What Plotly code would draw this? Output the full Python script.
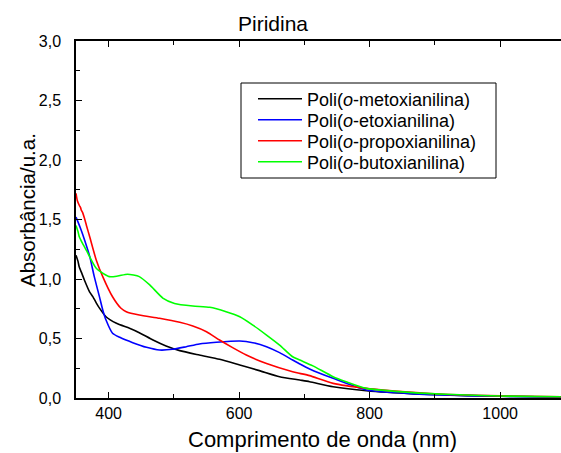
import plotly.graph_objects as go

# Wavelength (nm) / absorbance data
x_met = [350, 353, 355, 358, 363, 371, 376, 381, 386, 396, 412, 432, 447, 468, 488, 509, 539, 570, 601, 631, 662, 693, 708, 744, 795, 870, 950, 1020, 1093]
y_met = [1.20, 1.15, 1.10, 1.06, 0.99, 0.89, 0.85, 0.80, 0.755, 0.683, 0.628, 0.586, 0.549, 0.487, 0.437, 0.398, 0.361, 0.325, 0.277, 0.230, 0.179, 0.151, 0.137, 0.095, 0.061, 0.035, 0.020, 0.013, 0.008]

x_et = [350, 353, 358, 363, 371, 378, 386, 391, 396, 406, 417, 437, 458, 478, 498, 519, 539, 565, 601, 621, 642, 662, 682, 693, 708, 744, 795, 870, 950, 1020, 1093]
y_et = [1.52, 1.48, 1.41, 1.33, 1.19, 1.02, 0.85, 0.74, 0.655, 0.544, 0.51, 0.465, 0.426, 0.403, 0.409, 0.431, 0.454, 0.468, 0.479, 0.465, 0.431, 0.381, 0.319, 0.286, 0.244, 0.165, 0.067, 0.035, 0.020, 0.013, 0.008]

x_prop = [350, 352, 355, 357, 358, 360, 363, 366, 371, 381, 391, 406, 419, 427, 447, 478, 509, 529, 550, 570, 590, 611, 642, 682, 693, 708, 744, 795, 860, 920, 1000, 1093]
y_prop = [1.72, 1.66, 1.62, 1.60, 1.58, 1.56, 1.51, 1.45, 1.355, 1.16, 1.02, 0.851, 0.754, 0.725, 0.697, 0.670, 0.636, 0.605, 0.557, 0.487, 0.423, 0.361, 0.290, 0.221, 0.207, 0.188, 0.123, 0.081, 0.050, 0.030, 0.018, 0.010]

x_but = [350, 353, 355, 360, 366, 381, 401, 414, 429, 447, 463, 483, 501, 529, 555, 580, 601, 621, 642, 662, 682, 693, 713, 744, 764, 795, 866, 917, 1000, 1093]
y_but = [1.45, 1.40, 1.355, 1.30, 1.24, 1.09, 1.02, 1.025, 1.04, 1.02, 0.95, 0.84, 0.795, 0.773, 0.762, 0.725, 0.683, 0.613, 0.529, 0.445, 0.347, 0.319, 0.270, 0.179, 0.137, 0.081, 0.045, 0.031, 0.017, 0.010]

names = ["Poli(<i>o</i>-metoxianilina)", "Poli(<i>o</i>-etoxianilina)",
         "Poli(<i>o</i>-propoxianilina)", "Poli(<i>o</i>-butoxianilina)"]
colors = ["#000000", "#0000FF", "#FF0000", "#00FF00"]
xs = [x_met, x_et, x_prop, x_but]
ys = [y_met, y_et, y_prop, y_but]

FONT = "Arial, Liberation Sans, sans-serif"

L, T, B = 76, 41, 55
W, H = 561, 453
pw = W - L
ph = H - T - B

def px(xp):
    return (xp - L) / pw

def py(yp):
    return (H - B - yp) / ph

legend_ids = ["legend", "legend2", "legend3", "legend4"]
row_y = [99, 120, 141, 162]

fig = go.Figure()
for xv, yv, n, c, lg in zip(xs, ys, names, colors, legend_ids):
    fig.add_trace(go.Scatter(x=xv, y=yv, mode="lines", name=n, legend=lg,
                             line=dict(color=c, width=1.6, shape="spline", smoothing=0.6)))

legend_layout = {}
for lg, ry in zip(legend_ids, row_y):
    legend_layout[lg] = dict(x=px(253), y=py(ry), xanchor="left", yanchor="middle",
                             bgcolor="rgba(0,0,0,0)", borderwidth=0,
                             font=dict(family=FONT, size=18, color="black"),
                             itemwidth=44, tracegroupgap=0)

fig.update_layout(
    width=W, height=H,
    margin=dict(l=L, r=0, t=T, b=B, pad=0),
    paper_bgcolor="white", plot_bgcolor="white",
    separators=",.",
    font=dict(family=FONT, size=16, color="black"),
    showlegend=True,
    shapes=[dict(type="rect", xref="paper", yref="paper",
                 x0=px(241), x1=px(496), y0=py(178), y1=py(83),
                 line=dict(color="black", width=1), fillcolor="rgba(0,0,0,0)", layer="below")],
    annotations=[
        dict(text="Piridina", x=px(273), y=py(24), xref="paper", yref="paper",
             showarrow=False, xanchor="center", yanchor="middle",
             font=dict(family=FONT, size=21, color="black")),
        dict(text="Comprimento de onda (nm)", x=px(322), y=py(439), xref="paper", yref="paper",
             showarrow=False, xanchor="center", yanchor="middle",
             font=dict(family=FONT, size=22, color="black")),
        dict(text="Absorbância/u.a.", x=px(27), y=py(210), xref="paper", yref="paper",
             showarrow=False, xanchor="center", yanchor="middle", textangle=-90,
             font=dict(family=FONT, size=20.5, color="black")),
    ],
    **legend_layout,
)

fig.update_xaxes(
    range=[350, 350 + pw / 0.6525], showgrid=False, zeroline=False,
    showline=True, linecolor="black", linewidth=1.5, mirror="ticks",
    ticks="inside", ticklen=6, tickwidth=1.2, tickcolor="black",
    tick0=400, dtick=200,
    minor=dict(ticks="inside", ticklen=4, tickwidth=1.2, tickcolor="black", dtick=100, tick0=400),
    tickfont=dict(family=FONT, size=16, color="black"),
)
fig.update_yaxes(
    range=[0, 3], showgrid=False, zeroline=False,
    showline=True, linecolor="black", linewidth=1.5,
    ticks="inside", ticklen=6, tickwidth=1.2, tickcolor="black",
    tick0=0, dtick=0.5, tickformat=".1f", ticklabelstandoff=10,
    minor=dict(ticks="inside", ticklen=4, tickwidth=1.2, tickcolor="black", dtick=0.25),
    tickfont=dict(family=FONT, size=16, color="black"),
)

fig.write_html("out.html", config={"displayModeBar": False},
               post_script="document.body.style.margin='0px';document.body.style.overflow='hidden';")
